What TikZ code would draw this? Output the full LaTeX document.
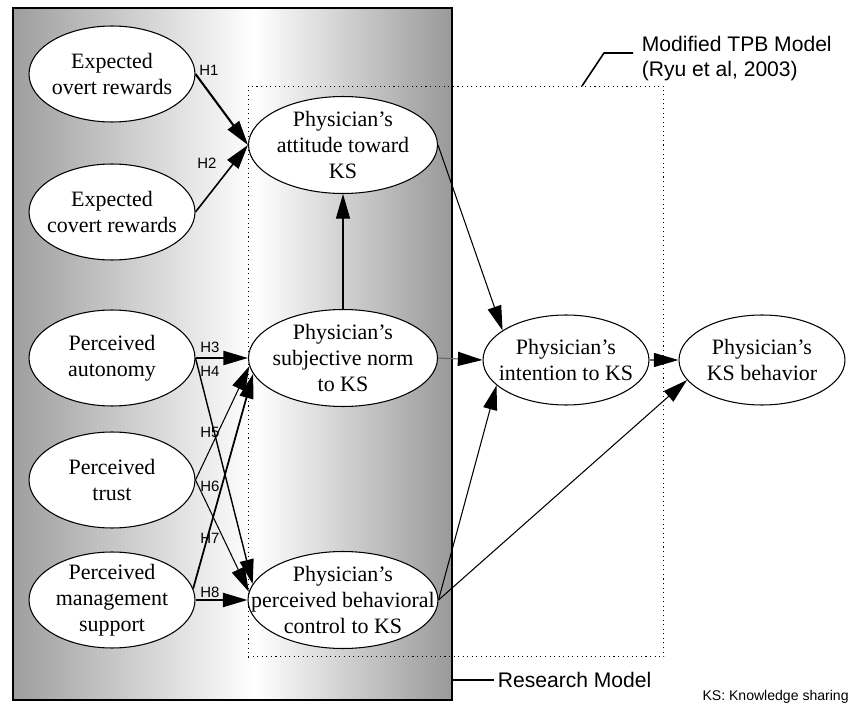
\documentclass[tikz,border=0pt]{standalone}
\usepackage{fontspec}
\setmainfont{Liberation Serif}
\setsansfont{Liberation Sans}
\usetikzlibrary{arrows.meta,shapes.geometric}

\begin{document}
\begin{tikzpicture}[x=0.02cm, y=-0.02cm,
    construct/.style={draw, ellipse, fill=white, line width=0.6pt, align=center,
        inner xsep=-14pt, inner ysep=-4pt, font=\fontsize{12.5}{14.7}\selectfont},
    extvar/.style={construct, minimum width=3.32cm, minimum height=1.92cm},
    tpbvar/.style={construct, minimum width=3.78cm, minimum height=1.94cm},
    endvar/.style={construct, minimum width=3.32cm, minimum height=1.8cm},
    rmbox/.style={draw, line width=1.1pt, minimum width=8.78cm, minimum height=13.84cm, inner sep=0pt},
    tpbbox/.style={draw, dotted, line width=0.6pt, minimum width=8.32cm,
        minimum height=11.42cm, inner sep=0pt},
    arr/.style={-{Triangle[length=14pt, width=8pt]}, line width=0.6pt},
    harr/.style={arr, line width=1.2pt},
    greyarr/.style={arr, draw=black!60, -{Triangle[length=14pt, width=8pt, black]}},
    hlbl/.style={font=\sffamily\fontsize{8.5}{10}\selectfont, inner sep=0pt},
    note/.style={font=\sffamily\fontsize{12}{14.2}\selectfont, align=left, inner xsep=2pt, inner ysep=0pt},
    lead/.style={line width=0.9pt},
]
\useasboundingbox (0,0) rectangle (850,706);

% research model background: grey - white - grey
\foreach \s in {0,...,109} {
  \pgfmathsetmacro\xl{13+4*\s}
  \pgfmathsetmacro\g{max(0, (\xl+2<255) ? 38*(253-\xl)/242 : 40*(\xl-253)/197)}
  \fill[black!\g] (\xl,8) rectangle (\xl+4.6,700);
}
\fill[white] (452,8) rectangle (460,700);

% model frames
\node[rmbox] (rm) at (232.5,354) {};
\node[tpbbox] (tpb) at (456,371.5) {};

% antecedents
\node[extvar] (overt) at (112,74) {Expected\\overt rewards};
\node[extvar] (covert) at (112,212) {Expected\\covert rewards};
\node[extvar] (auton) at (112,358) {Perceived\\autonomy};
\node[extvar] (trust) at (112,480) {Perceived\\trust};
\node[extvar] (mgmt) at (112,600) {Perceived\\management\\support};

% TPB constructs
\node[tpbvar] (att) at (343,145) {Physician's\\attitude toward\\KS};
\node[tpbvar] (norm) at (343,358) {Physician's\\subjective norm\\to KS};
\node[tpbvar] (pbc) at (343,600) {Physician's\\perceived behavioral\\control to KS};
\node[endvar] (intent) at (566,360) {Physician's\\intention to KS};
\node[endvar] (behav) at (762,360) {Physician's\\KS behavior};

% hypotheses
\draw[harr] (overt.east) -- (att.west);
\draw[harr, line width=0.9pt] (covert.east) -- (att.west);
\draw[harr] (auton.east) -- (norm.west);
\draw[harr, line width=0.8pt] (auton.east) -- (pbc.170);
\draw[arr] (trust.east) -- (norm.185);
\draw[arr] (trust.east) -- (pbc.175);
\draw[harr, line width=1pt] (mgmt.8) -- (norm.190);
\draw[harr] (mgmt.east) -- (pbc.west);

\node[hlbl] (h1) at (209,70) {H1};
\node[hlbl] (h2) at (207,163) {H2};
\node[hlbl] (h3) at (210,347) {H3};
\node[hlbl] (h4) at (210,371) {H4};
\node[hlbl] (h5) at (210,432) {H5};
\node[hlbl] (h6) at (210,486) {H6};
\node[hlbl] (h7) at (210,538) {H7};
\node[hlbl] (h8) at (210,592) {H8};

% TPB paths
\draw[arr] (norm.north) -- (att.south);
\draw[arr] (att.east) -- (intent.155);
\draw[greyarr] (norm.east) -- (intent.west);
\draw[arr] (pbc.east) -- (intent.200);
\draw[arr] (pbc.east) -- (behav.195);
\draw[greyarr] (intent.east) -- (behav.west);

% captions
\node[note, anchor=west] (tpblbl) at (638,59) {Modified TPB Model\\(Ryu et al, 2003)};
\coordinate (tpbfoot) at (582,86);
\coordinate (tpbknee) at (604,53);
\draw[lead] (tpbfoot) -- (tpbknee) -- ++(29,0);

\node[note, anchor=west] (rmlbl) at (494,680) {Research Model};
\draw[lead] (rm.east |- rmlbl) -- (rmlbl.west);

\node[font=\sffamily\fontsize{8}{9}\selectfont, anchor=east, inner sep=0pt] (kslbl) at (849,697) {KS: Knowledge sharing};
\end{tikzpicture}
\end{document}
